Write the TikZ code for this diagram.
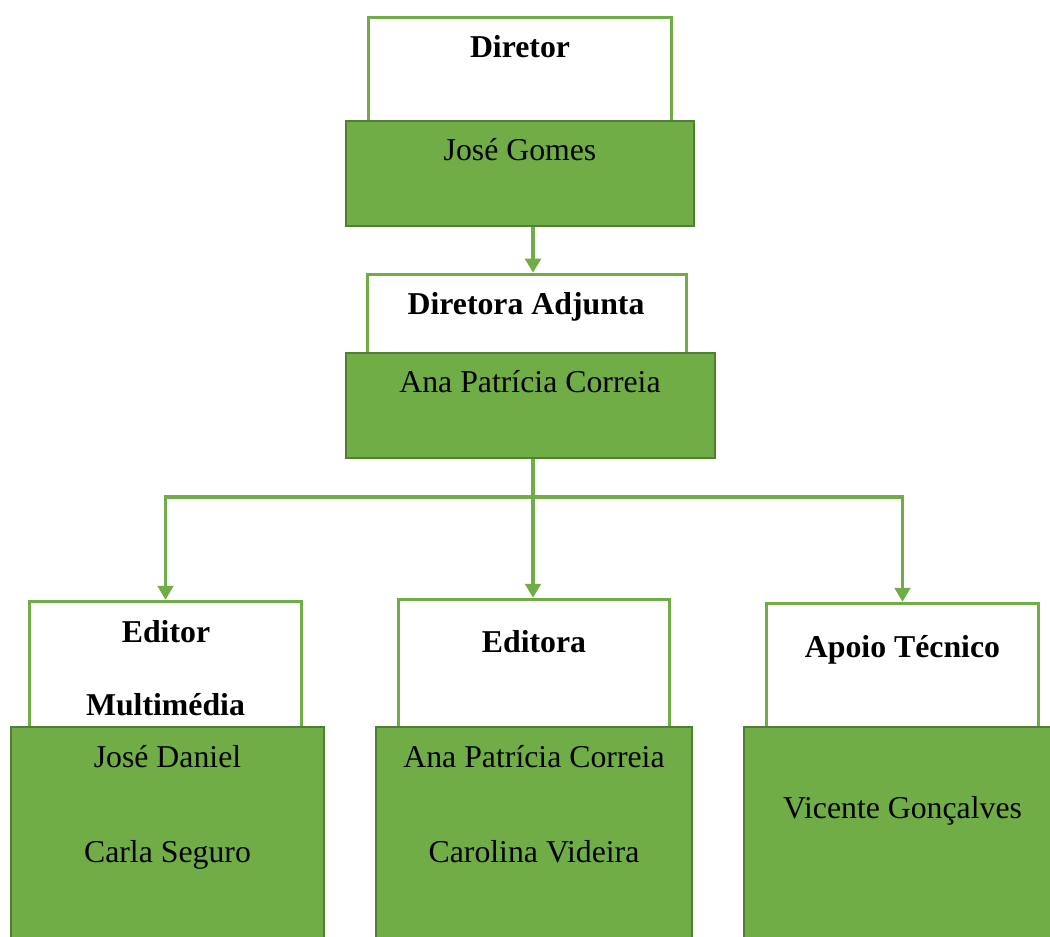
\documentclass[tikz,border=0pt]{standalone}
\usepackage{fontspec}
\setmainfont{Liberation Serif}
\usetikzlibrary{positioning, arrows.meta}
\definecolor{verde}{HTML}{70AD47}
\definecolor{verdeescuro}{HTML}{507E32}
\newcommand{\letra}{\fontsize{22.6}{27}\selectfont}
\tikzset{
    caixa_cargo/.style={rectangle, draw=verde, fill=white, line width=2.4pt, inner sep=0pt},
    caixa_nome/.style={rectangle, draw=verdeescuro, fill=verde, line width=1.4pt, inner sep=0pt},
    texto_cargo/.style={anchor=base, font=\letra\bfseries},
    texto_nome/.style={anchor=base, font=\letra},
    seta/.style={draw=verde, line width=2.6pt, -{Triangle[width=11pt, length=10pt]}}
}

\begin{document}
\begin{tikzpicture}[
            x=0.025cm, y=-0.025cm
        ]
            \useasboundingbox (0,0) rectangle (1050,937);
            \clip (0,0) rectangle (1050,937);

            % 1. Diretor (topo)
            \node[caixa_cargo, minimum width=7.575cm, minimum height=2.66cm] (dirT) at (520,70.75) {};
            \node[caixa_nome, minimum width=8.7cm, minimum height=2.625cm] (dirG) at (520,173.5) {};
            \node[texto_cargo] (tDir) at (520,58) {Diretor};
            \node[texto_nome] (nDir) at (520,161) {José Gomes};

            % 2. Diretora adjunta
            \node[caixa_cargo, minimum width=7.975cm, minimum height=2.04cm] (adjT) at (527,315.25) {};
            \node[caixa_nome, minimum width=9.225cm, minimum height=2.625cm] (adjG) at (530.5,405.5) {};
            \node[texto_cargo] (tAdj) at (526,315) {Diretora Adjunta};
            \node[texto_nome] (nAdj) at (530,393) {Ana Patrícia Correia};

            % 3. Fila inferior (os três setores)
            \node[caixa_cargo, minimum width=6.8cm, minimum height=3.21cm] (edmT) at (165.5,665.75) {};
            \node[caixa_nome, minimum width=7.825cm, minimum height=5.825cm] (edmG) at (167.5,843.5) {};
            \node[texto_cargo] (tEdm1) at (166,642) {Editor};
            \node[texto_cargo] (tEdm2) at (165.5,715) {Multimédia};
            \node[texto_nome] (nEdm1) at (167.5,767) {José Daniel};
            \node[texto_nome] (nEdm2) at (167.5,862) {Carla Seguro};

            \node[caixa_cargo, minimum width=6.775cm, minimum height=3.26cm] (edaT) at (534,664.75) {};
            \node[caixa_nome, minimum width=7.9cm, minimum height=5.825cm] (edaG) at (534,843.5) {};
            \node[texto_cargo] (tEda) at (534,652) {Editora};
            \node[texto_nome] (nEda1) at (534,767) {Ana Patrícia Correia};
            \node[texto_nome] (nEda2) at (534,862) {Carolina Videira};

            \node[caixa_cargo, minimum width=6.8cm, minimum height=3.16cm] (apoT) at (902.5,666.75) {};
            \node[caixa_nome, minimum width=7.925cm, minimum height=5.825cm] (apoG) at (902.5,843.5) {};
            \node[texto_cargo] (tApo) at (902.5,657) {Apoio Técnico};
            \node[texto_nome] (nApo) at (902.5,818) {Vicente Gonçalves};

            % --- LIGAÇÕES ---
            \coordinate (eixo) at (533,0);
            \coordinate (ramo) at (533,497);

            \draw[seta] (dirG.south -| eixo) -- (adjT.north -| eixo);

            \draw[seta] (adjG.south -| eixo) -- (ramo) -| (edmT.north);
            \draw[seta] (adjG.south -| eixo) -- (ramo) -| (apoT.north);
            \draw[seta] (ramo) -- (edaT.north -| ramo);

        \end{tikzpicture}
\end{document}
